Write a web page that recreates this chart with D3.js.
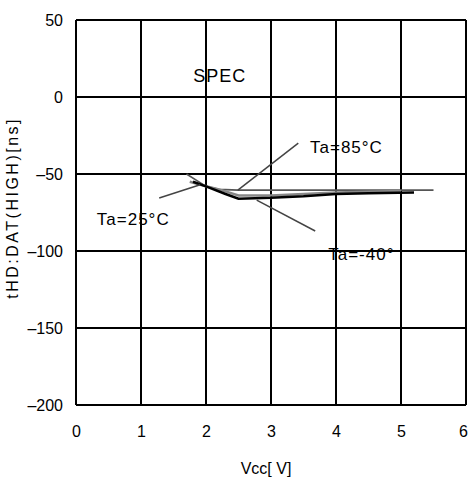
<!DOCTYPE html>
<html><head><meta charset="utf-8">
<script src="https://cdn.jsdelivr.net/npm/d3@7"></script>
<style>body{margin:0;background:#fff}text{font-family:"Liberation Sans",Arial,sans-serif;fill:#000}</style>
</head><body>
<svg id="c" width="472" height="482"></svg>
<script>
const xTicks = [0,1,2,3,4,5,6];
const yTicks = [50,0,-50,-100,-150,-200];
const v85 = [1.7,2.0,2.2,2.5,3.0,3.5,4.0,4.5,5.0,5.5];
const t85 = [-50,-58,-60,-60.5,-60.5,-60.5,-60.5,-60.5,-60.5,-60.5];
const v25 = [1.75,2.0,2.2,2.5,3.0,3.5,4.0,4.5,5.0];
const t25 = [-55,-58,-60,-64,-64,-63,-62,-61.5,-61];
const vm40 = [1.8,2.0,2.3,2.5,3.0,3.5,4.0,4.5,5.2];
const tm40 = [-55,-58,-63,-66,-65.5,-64.5,-63,-62.5,-62];
const labels = ["Ta=85°C","Ta=25°C","Ta=-40°"];
const labelPos = [[3.6,-36.4],[0.32,-83],[3.88,-106]];
const leaders = [[[3.42,-30],[2.49,-60.5]],[[1.28,-65.6],[1.91,-57]],[[2.78,-67],[3.68,-87]]];

const svg = d3.select("#c");
const x = d3.scaleLinear().domain([0,6]).range([76,466]);
const y = d3.scaleLinear().domain([-200,50]).range([405,20]);

// grid
svg.append("g").selectAll("line").data(xTicks).join("line")
  .attr("x1",d=>x(d)).attr("x2",d=>x(d)).attr("y1",y(50)).attr("y2",y(-200))
  .attr("stroke","#000").attr("stroke-width",2);
svg.append("g").selectAll("line").data(yTicks).join("line")
  .attr("y1",d=>y(d)).attr("y2",d=>y(d)).attr("x1",x(0)).attr("x2",x(6))
  .attr("stroke","#000").attr("stroke-width",2);

// axes labels
const xa = d3.axisBottom(x).tickValues(xTicks).tickSize(0).tickPadding(0).tickFormat(d3.format("d"));
const gx = svg.append("g").attr("transform",`translate(0,${y(-200)+27})`).call(xa);
gx.select(".domain").remove();
gx.selectAll("text").attr("font-size",16).attr("dy","0.71em").attr("y",-6);
gx.selectAll("text").filter(d=>d===6).attr("x",-3);
const ya = d3.axisLeft(y).tickValues(yTicks).tickSize(0).tickPadding(0).tickFormat(d=>d<0?"\u2013"+Math.abs(d):d);
const gy = svg.append("g").attr("transform",`translate(63,0)`).call(ya);
gy.select(".domain").remove();
gy.selectAll("text").attr("font-size",16).attr("x",0).attr("dy","0.35em");

svg.append("text").attr("x",x(3)-5).attr("y",474).attr("text-anchor","middle").attr("font-size",16).text("Vcc[ V]");
svg.append("text").attr("transform",`translate(18,${y(-72)}) rotate(-90)`).attr("text-anchor","middle")
  .attr("font-size",16).attr("letter-spacing",2.5).text("tHD:DAT(HIGH)[ns]");
svg.append("text").attr("x",x(2.21)).attr("y",y(10)).attr("text-anchor","middle").attr("font-size",18).attr("letter-spacing",1).text("SPEC");

// curves
const line = d3.line().x(d=>x(d[0])).y(d=>y(d[1]));
const series = [
  {v:v85,t:t85,c:"#555",w:1.6},
  {v:v25,t:t25,c:"#888",w:2.5},
  {v:vm40,t:tm40,c:"#000",w:2.5}
];
series.forEach(s=>{
  svg.append("path").attr("d",line(s.v.map((v,i)=>[v,s.t[i]])))
    .attr("fill","none").attr("stroke",s.c).attr("stroke-width",s.w);
});

// leaders and labels
leaders.forEach(l=>{
  svg.append("line").attr("x1",x(l[0][0])).attr("y1",y(l[0][1])).attr("x2",x(l[1][0])).attr("y2",y(l[1][1]))
    .attr("stroke","#444").attr("stroke-width",1.5);
});
labels.forEach((t,i)=>{
  svg.append("text").attr("x",x(labelPos[i][0])).attr("y",y(labelPos[i][1])).attr("font-size",17)
    .attr("letter-spacing",1).text(t);
});
</script>
</body></html>
